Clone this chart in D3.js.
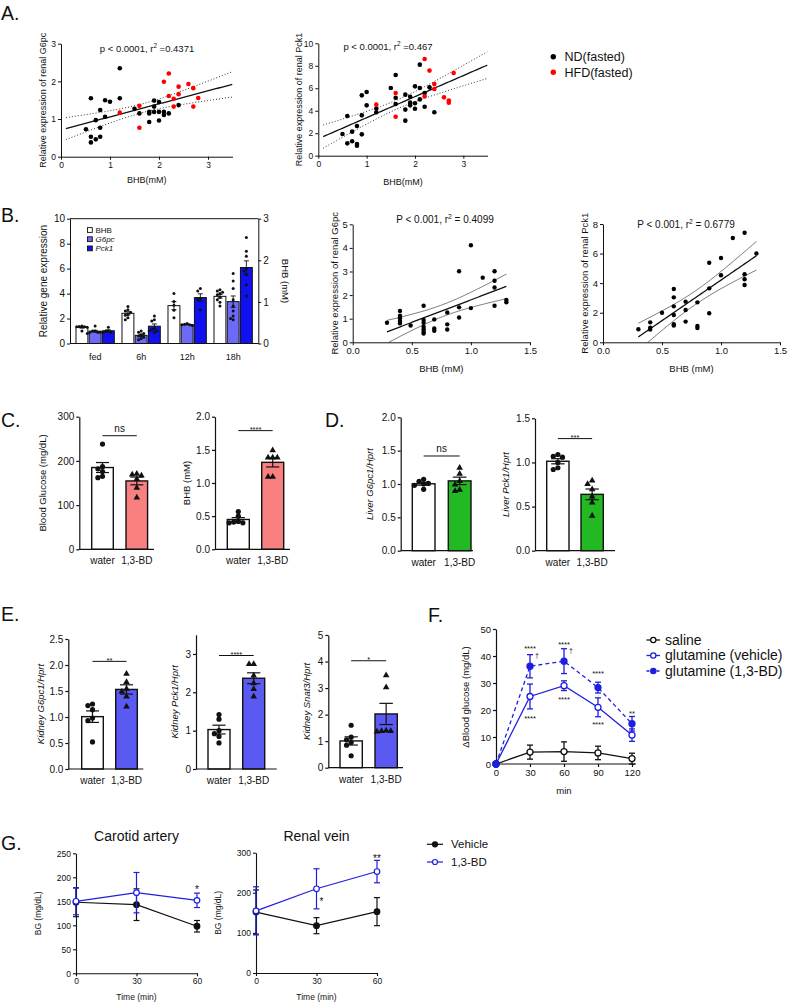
<!DOCTYPE html>
<html>
<head>
<meta charset="utf-8">
<script src="https://cdn.jsdelivr.net/npm/d3@7"></script>
<style>
body { margin: 0; background: #fff; }
svg { font-family: "Liberation Sans", Arial, sans-serif; }
</style>
</head>
<body>
<svg id="fig" width="789" height="1006"></svg>
<script>
// ---------------- data ----------------
// A: renal expression vs BHB, fasted ND / HFD mice
var aG6pcND = [[0.51,0.73],[0.61,1.55],[0.61,0.53],[0.61,0.38],[0.71,0.97],[0.71,0.46],[0.80,1.24],[0.80,0.77],[0.80,0.53],[0.90,1.06],[0.90,1.50],[1.0,1.46],[1.2,2.35],[1.2,1.55],[1.5,1.27],[1.6,1.15],[1.8,1.19],[1.8,0.92],[1.8,1.15],[1.9,1.49],[1.9,1.33],[1.9,1.19],[2.0,1.45],[2.0,1.19],[2.0,0.96],[2.1,1.19],[2.1,1.11],[2.2,1.15],[2.4,1.37]];
var aG6pcHFD = [[1.2,1.17],[1.6,1.35],[1.6,0.77],[2.1,1.99],[2.2,2.21],[2.2,1.61],[2.3,1.54],[2.3,1.33],[2.4,1.86],[2.4,1.66],[2.6,1.93],[2.7,1.82],[2.7,1.33],[2.8,1.56]];
var aPck1ND = [[0.5,1.93],[0.6,3.53],[0.6,1.1],[0.7,1.28],[0.7,2.14],[0.8,2.64],[0.8,1.04],[0.8,0.89],[0.9,5.37],[0.9,3.59],[0.9,1.9],[1.0,5.67],[1.0,4.48],[1.2,4.2],[1.2,3.86],[1.5,6.02],[1.6,7.18],[1.6,5.16],[1.6,4.6],[1.8,5.43],[1.8,4.1],[1.8,3.12],[1.9,5.25],[1.9,4.72],[1.9,4.48],[2.0,6.17],[2.0,4.66],[2.0,4.18],[2.1,8.1],[2.1,6.02],[2.1,5.01],[2.2,5.58],[2.2,4.36],[2.3,6.08],[2.4,3.86]];
var aPck1HFD = [[1.2,4.54],[1.6,5.58],[1.6,3.47],[2.2,8.6],[2.2,5.28],[2.3,7.57],[2.4,6.38],[2.4,5.93],[2.6,5.19],[2.7,4.9],[2.7,4.72],[2.8,7.36]];

// B: fasting time course
var bGroups = ["fed", "6h", "12h", "18h"];
var bSeries = ["BHB", "G6pc", "Pck1"];
var bBHB = [[0.41,0.40,0.42,0.40,0.39,0.30],[0.89,0.81,0.78,0.75,0.70,0.68,0.62,0.57],[1.20,1.01,0.92,0.80,0.62],[1.29,1.26,1.23,1.20,1.17,1.11,1.05,0.99,0.90]];
var bG6pc = [[1.0,0.9,0.8,0.9,1.4,0.9,1.0],[1.0,0.8,0.6,0.5,0.4,0.7,0.3,0.9],[1.5,1.6,1.5,1.45,1.55],[5.6,5.0,4.4,3.5,3.0,2.6,2.2,2.0,1.9]];
var bPck1 = [[1.0,0.9,1.3,1.0,0.9],[2.2,1.9,1.8,1.2,1.0,0.9,1.0,1.1],[4.4,4.2,3.5,3.6,2.7],[8.5,7.4,7.0,6.0,5.8,5.5,4.7,3.8]];
var bG6pcVsBHB = [[0.29,0.83],[0.40,1.33],[0.40,1.13],[0.40,1.02],[0.40,0.90],[0.40,0.80],[0.49,0.71],[0.60,1.55],[0.60,0.95],[0.60,0.83],[0.60,0.66],[0.60,0.55],[0.60,0.45],[0.60,0.37],[0.69,0.97],[0.69,0.59],[0.69,0.49],[0.80,1.26],[0.80,0.76],[0.80,0.54],[0.90,3.01],[0.90,1.48],[0.90,1.05],[1.0,4.11],[1.0,1.45],[1.1,2.74],[1.2,3.01],[1.2,2.61],[1.2,2.32],[1.2,1.55],[1.3,1.79],[1.3,1.70]];
var bPck1VsBHB = [[0.3,0.88],[0.4,1.35],[0.4,0.99],[0.4,0.86],[0.5,2.0],[0.6,3.6],[0.6,3.04],[0.6,2.43],[0.6,1.85],[0.6,1.22],[0.6,1.13],[0.7,2.75],[0.7,2.18],[0.7,1.4],[0.8,2.7],[0.8,1.1],[0.8,0.97],[0.9,5.38],[0.9,3.65],[0.9,1.96],[1.0,5.7],[1.0,4.53],[1.1,7.05],[1.2,7.41],[1.2,4.6],[1.2,4.26],[1.2,3.87],[1.3,6.01]];

// C, D, E: water vs 1,3-BD
var treatments = ["water", "1,3-BD"];
var cGlucose = [[238,187,182,176,165,162],[172,170,168,160,140,118]];
var cBHB = [[0.57,0.50,0.42,0.41,0.40,0.40],[1.50,1.39,1.39,1.39,1.10,1.10]];
var dLiverG6pc = [[1.07,1.04,1.01,1.0,0.98,0.92],[1.25,1.16,1.05,1.0,0.92,0.90]];
var dLiverPck1 = [[1.09,1.07,1.06,1.0,0.94,0.92],[0.80,0.76,0.70,0.62,0.55,0.40]];
var eKidG6pc = [[1.25,1.22,1.14,0.98,0.93,0.52],[1.84,1.68,1.55,1.50,1.40,1.21]];
var eKidPck1 = [[1.42,1.30,1.00,0.92,0.85,0.68],[2.75,2.75,2.45,2.25,2.10,1.90]];
var eKidSnat3 = [[1.60,1.15,1.05,0.95,0.85,0.45],[3.50,3.05,1.42,1.40,1.38,1.40]];

// F: glutamine tolerance
var fTimes = [0, 30, 60, 90, 120];
var fSaline = [0, 4.4, 4.6, 4.1, 2.0];
var fSalineSem = [0, 2.6, 3.6, 2.5, 2.0];
var fGlnVeh = [0, 25, 29, 21, 10.7];
var fGlnVehSem = [0, 4.6, 1.8, 3.5, 2.3];
var fGlnBD = [0, 36.2, 38.1, 28.3, 14.9];
var fGlnBDSem = [0, 4.3, 4.6, 2.0, 2.7];
var fMarks = [[30,43.4,"****"],[60,45.0,"****"],[90,34.3,"****"],[30,17.7,"****"],[60,24.6,"****"],[90,15.3,"****"],[120,19.6,"**"]];
var fDaggers = [[30,40.2],[60,42.3]];

// G: blood glucose, carotid artery and renal vein
var gTimes = [0, 30, 60];
var gCaVeh = [148, 143, 98], gCaVehSem = [30, 33, 12];
var gCaBD = [150, 168, 152], gCaBDSem = [28, 42, 15];
var gRvVeh = [152, 118, 153], gRvVehSem = [55, 20, 35];
var gRvBD = [155, 210, 253], gRvBDSem = [60, 50, 28];

// ---------------- drawing ----------------
var svg = d3.select("svg#fig");
var INK = "#111";
var BLUE = "#1e1ee0";

function label(x, y, s, size, o) {
  o = o || {};
  var t = svg.append("text").attr("x", x).attr("y", y).attr("font-size", size)
    .attr("text-anchor", o.anchor || "start").attr("fill", o.fill || INK).text(s);
  if (o.rotate) t.attr("transform", "rotate(" + o.rotate + "," + x + "," + y + ")");
  if (o.italic) t.attr("font-style", "italic");
  return t;
}

function styleAxis(g, fs, sw) {
  g.attr("font-size", fs).attr("font-family", null);
  g.selectAll("path.domain").attr("stroke", INK).attr("stroke-width", sw);
  g.selectAll(".tick line").attr("stroke", INK).attr("stroke-width", sw);
  g.selectAll(".tick text").attr("fill", INK);
}

function leftAxis(x, scale, ticks, fmt, fs, sw) {
  var g = svg.append("g").attr("transform", "translate(" + x + ",0)")
    .call(d3.axisLeft(scale).tickValues(ticks).tickFormat(d3.format(fmt)).tickSize(3).tickSizeOuter(0).tickPadding(2));
  styleAxis(g, fs, sw);
  return g;
}

function bottomAxis(y, scale, ticks, fmt, fs, sw) {
  var g = svg.append("g").attr("transform", "translate(0," + y + ")")
    .call(d3.axisBottom(scale).tickValues(ticks).tickFormat(d3.format(fmt)).tickSize(3).tickSizeOuter(0).tickPadding(2));
  styleAxis(g, fs, sw);
  return g;
}

// least squares line with 95% confidence band
function fit(pts) {
  var n = pts.length;
  var mx = d3.mean(pts, function(d) { return d[0]; });
  var my = d3.mean(pts, function(d) { return d[1]; });
  var sxx = d3.sum(pts, function(d) { return (d[0] - mx) * (d[0] - mx); });
  var sxy = d3.sum(pts, function(d) { return (d[0] - mx) * (d[1] - my); });
  var b = sxy / sxx, a = my - b * mx;
  var s = Math.sqrt(d3.sum(pts, function(d) { var r = d[1] - a - b * d[0]; return r * r; }) / (n - 2));
  return {
    y: function(x) { return a + b * x; },
    ci: function(x) { return 2.02 * s * Math.sqrt(1 / n + (x - mx) * (x - mx) / sxx); }
  };
}

var clipN = 0;
function scatterPanel(o) {
  var x = d3.scaleLinear().domain(o.xd).range([o.x0, o.x1]);
  var y = d3.scaleLinear().domain(o.yd).range([o.y0, o.y1]);
  leftAxis(o.x0, y, o.yt, o.yf, o.fs, 1);
  bottomAxis(o.y0, x, o.xt, o.xf, o.fs, 1);

  var id = "clip" + (clipN++);
  svg.append("clipPath").attr("id", id).append("rect")
    .attr("x", o.x0).attr("y", o.y1).attr("width", o.x1 - o.x0).attr("height", o.y0 - o.y1);
  var g = svg.append("g").attr("clip-path", "url(#" + id + ")");

  var all = [];
  o.sets.forEach(function(s) { all = all.concat(s.pts); });
  var f = fit(all);
  var xs = d3.range(0, 61).map(function(i) { return o.fitX[0] + (o.fitX[1] - o.fitX[0]) * i / 60; });
  var ln = function(fn) {
    return d3.line().x(function(v) { return x(v); }).y(function(v) { return y(fn(v)); })(xs);
  };
  g.append("path").attr("d", ln(function(v) { return f.y(v) + f.ci(v); }))
    .attr("fill", "none").attr("stroke", o.bandColor).attr("stroke-width", o.bandWidth).attr("stroke-dasharray", o.bandDash);
  g.append("path").attr("d", ln(function(v) { return f.y(v) - f.ci(v); }))
    .attr("fill", "none").attr("stroke", o.bandColor).attr("stroke-width", o.bandWidth).attr("stroke-dasharray", o.bandDash);
  g.append("path").attr("d", ln(f.y)).attr("fill", "none").attr("stroke", INK).attr("stroke-width", 1.3);

  o.sets.forEach(function(s) {
    svg.append("g").selectAll("circle").data(s.pts).enter().append("circle")
      .attr("cx", function(d) { return x(d[0]); }).attr("cy", function(d) { return y(d[1]); })
      .attr("r", o.r).attr("fill", s.color);
  });

  label(o.ylabX, (o.y0 + o.y1) / 2, o.ylab, o.lfs, { anchor: "middle", rotate: -90 });
  label((o.x0 + o.x1) / 2, o.xlabY, o.xlab, o.lfs, { anchor: "middle" });
  var st = label(o.statX, o.statY, o.stat[0], o.sfs, { anchor: "middle" });
  st.append("tspan").attr("font-size", o.sfs * 0.68).attr("dy", -3.8).text("2");
  st.append("tspan").attr("dy", 3.8).text(o.stat[1]);
}

// simple horizontal spread of dots that would overlap
function swarm(vals, y, cx, r, step) {
  var placed = [];
  var order = vals.map(function(v, i) { return i; }).sort(function(a, b) { return vals[b] - vals[a]; });
  var out = [];
  order.forEach(function(i) {
    var py = y(vals[i]);
    var cands = [0, -1, 1, -2, 2, -3, 3];
    for (var k = 0; k < cands.length; k++) {
      var px = cx + cands[k] * step;
      var hit = placed.some(function(p) { return Math.abs(p[0] - px) < step * 0.9 && Math.abs(p[1] - py) < r * 1.7; });
      if (!hit) break;
    }
    placed.push([px, py]);
    out.push([px, py]);
  });
  return out;
}

function sem(v) { return d3.deviation(v) / Math.sqrt(v.length); }

function errBar(cx, yTop, yBot, half, color, sw) {
  svg.append("line").attr("x1", cx).attr("x2", cx).attr("y1", yTop).attr("y2", yBot).attr("stroke", color).attr("stroke-width", sw);
  svg.append("line").attr("x1", cx - half).attr("x2", cx + half).attr("y1", yTop).attr("y2", yTop).attr("stroke", color).attr("stroke-width", sw);
  svg.append("line").attr("x1", cx - half).attr("x2", cx + half).attr("y1", yBot).attr("y2", yBot).attr("stroke", color).attr("stroke-width", sw);
}

// ---------- panel letters ----------
label(1, 20, "A.", 19.5);
label(1, 222, "B.", 19.5);
label(1, 426.5, "C.", 19.5);
label(325, 426.5, "D.", 19.5);
label(1, 620.5, "E.", 19.5);
label(428, 622, "F.", 19.5);
label(1, 850, "G.", 19.5);

// ---------- A ----------
scatterPanel({
  x0: 61, x1: 232.5, y0: 156.7, y1: 43.7, xd: [0, 3.5], yd: [0, 3],
  xt: [0, 1, 2, 3], xf: "d", yt: [0, 1, 2, 3], yf: "d", fs: 8.5, lfs: 9, sfs: 9.5,
  sets: [{ pts: aG6pcND, color: "#000" }, { pts: aG6pcHFD, color: "#f00" }],
  r: 2.3, fitX: [0.1, 3.5], bandColor: "#333", bandWidth: 1, bandDash: "1,2",
  ylab: "Relative expression of renal G6pc", ylabX: 46.5, xlab: "BHB(mM)", xlabY: 183,
  stat: ["p < 0.0001, r", " =0.4371"], statX: 147, statY: 51.5
});
scatterPanel({
  x0: 318.3, x1: 487.5, y0: 155.7, y1: 43.3, xd: [0, 3.5], yd: [0, 10],
  xt: [0, 1, 2, 3], xf: "d", yt: [0, 2, 4, 6, 8, 10], yf: "d", fs: 8.5, lfs: 9, sfs: 9.5,
  sets: [{ pts: aPck1ND, color: "#000" }, { pts: aPck1HFD, color: "#f00" }],
  r: 2.3, fitX: [0.1, 3.5], bandColor: "#333", bandWidth: 1, bandDash: "1,2",
  ylab: "Relative expression of renal Pck1", ylabX: 301.5, xlab: "BHB(mM)", xlabY: 184.5,
  stat: ["p < 0.0001, r", " =0.467"], statX: 388, statY: 49.5
});
[["ND(fasted)", "#000", 56.7], ["HFD(fasted)", "#f00", 72.3]].forEach(function(l) {
  svg.append("circle").attr("cx", 553.3).attr("cy", l[2]).attr("r", 2.7).attr("fill", l[1]);
  label(564.5, l[2] + 4.4, l[0], 12.5);
});

// ---------- B bars ----------
(function() {
  var x0 = d3.scaleBand().domain(bGroups).range([70, 258.3]).paddingInner(0.167).paddingOuter(0.13);
  var x1 = d3.scaleBand().domain(bSeries).range([0, x0.bandwidth()]).paddingInner(0.1);
  var yL = d3.scaleLinear().domain([0, 10]).range([343.5, 218.7]);
  var yR = d3.scaleLinear().domain([0, 3]).range([343.5, 218.7]);
  var fills = { BHB: "#fff", G6pc: "#6b6bf7", Pck1: "#1010f0" };
  var sets = { BHB: bBHB, G6pc: bG6pc, Pck1: bPck1 };

  bGroups.forEach(function(gname, gi) {
    bSeries.forEach(function(s) {
      var vals = sets[s][gi];
      var y = s === "BHB" ? yR : yL;
      var m = d3.mean(vals), e = sem(vals);
      var bx = x0(gname) + x1(s), bw = x1.bandwidth();
      svg.append("rect").attr("x", bx).attr("y", y(m)).attr("width", bw).attr("height", y(0) - y(m))
        .attr("fill", fills[s]).attr("stroke", INK).attr("stroke-width", 1);
      errBar(bx + bw / 2, y(m + e), y(m - e), 2.5, INK, 0.9);
      swarm(vals, y, bx + bw / 2, 1.5, 2.6).forEach(function(p) {
        svg.append("circle").attr("cx", p[0]).attr("cy", p[1]).attr("r", 1.5).attr("fill", INK);
      });
    });
  });

  leftAxis(70, yL, [0, 2, 4, 6, 8, 10], "d", 10, 1);
  var gr = svg.append("g").attr("transform", "translate(258.3,0)")
    .call(d3.axisRight(yR).tickValues([0, 1, 2, 3]).tickFormat(d3.format("d")).tickSize(3).tickSizeOuter(0).tickPadding(2));
  styleAxis(gr, 10, 1);
  svg.append("line").attr("x1", 70).attr("x2", 258.3).attr("y1", 343.5).attr("y2", 343.5).attr("stroke", INK);
  svg.append("line").attr("x1", 70).attr("x2", 258.3).attr("y1", 218.7).attr("y2", 218.7).attr("stroke", INK);
  bGroups.forEach(function(gname) {
    label(x0(gname) + x0.bandwidth() / 2, 360, gname, 9, { anchor: "middle" });
  });
  label(46.5, 281, "Relative gene expression", 10, { anchor: "middle", rotate: -90 });
  label(281.5, 281, "BHB (mM)", 9.5, { anchor: "middle", rotate: 90 });

  bSeries.forEach(function(s, i) {
    var cy = 230 + i * 9.2;
    svg.append("rect").attr("x", 87.5).attr("y", cy - 2.4).attr("width", 4.8).attr("height", 4.8)
      .attr("fill", fills[s]).attr("stroke", INK).attr("stroke-width", 0.9);
    label(95.5, cy + 3, s, 8, { italic: s !== "BHB" });
  });
})();

// ---------- B scatters ----------
scatterPanel({
  x0: 352.7, x1: 530, y0: 342.3, y1: 224.3, xd: [0, 1.5], yd: [0, 5],
  xt: [0, 0.5, 1, 1.5], xf: ".1f", yt: [0, 1, 2, 3, 4, 5], yf: "d", fs: 9.5, lfs: 9.5, sfs: 10,
  sets: [{ pts: bG6pcVsBHB, color: "#000" }],
  r: 2.2, fitX: [0.29, 1.3], bandColor: "#222", bandWidth: 0.6, bandDash: null,
  ylab: "Relative expression of renal G6pc", ylabX: 338, xlab: "BHB (mM)", xlabY: 372,
  stat: ["P < 0.001, r", " = 0.4099"], statX: 445, statY: 222.5
});
scatterPanel({
  x0: 603, x1: 780, y0: 342.3, y1: 224, xd: [0, 1.5], yd: [0, 8],
  xt: [0, 0.5, 1, 1.5], xf: ".1f", yt: [0, 2, 4, 6, 8], yf: "d", fs: 9.5, lfs: 9.5, sfs: 10,
  sets: [{ pts: bPck1VsBHB, color: "#000" }],
  r: 2.2, fitX: [0.3, 1.3], bandColor: "#222", bandWidth: 0.6, bandDash: null,
  ylab: "Relative expression of renal Pck1", ylabX: 588, xlab: "BHB (mM)", xlabY: 372,
  stat: ["P < 0.001, r", " = 0.6779"], statX: 686, statY: 227.5
});

// ---------- C, D, E: two-bar dot plots ----------
function dotBarPanel(o) {
  var pad = (o.step - o.bw) / 2;
  var x = d3.scaleBand().domain(treatments).range([o.bar - pad, o.bar - pad + 2 * o.step])
    .paddingInner(1 - o.bw / o.step).paddingOuter((1 - o.bw / o.step) / 2);
  var y = d3.scaleLinear().domain(o.yd).range([o.y0, o.y1]);
  var fills = [ "#fff", o.fill ];

  treatments.forEach(function(t, i) {
    var vals = o.data[i];
    var m = d3.mean(vals), e = sem(vals);
    var bx = x(t), bw = x.bandwidth(), cx = bx + bw / 2;
    svg.append("rect").attr("x", bx).attr("y", y(m)).attr("width", bw).attr("height", y(0) - y(m))
      .attr("fill", fills[i]).attr("stroke", INK).attr("stroke-width", 1.4);
    var pts = swarm(vals, y, cx, 2.6, 4.6);
    pts.forEach(function(p) {
      if (i === 0) {
        svg.append("circle").attr("cx", p[0]).attr("cy", p[1]).attr("r", 2.6).attr("fill", INK);
      } else {
        svg.append("path").attr("d", d3.symbol(d3.symbolTriangle).size(19)())
          .attr("transform", "translate(" + p[0] + "," + (p[1] + 0.5) + ")").attr("fill", INK);
      }
    });
    errBar(cx, y(m + e), y(m - e), bw * 0.3, INK, 1.2);
    label(cx, o.y0 + 15, t, 10, { anchor: "middle" });
  });

  leftAxis(o.x0, y, o.yt, o.yf, 10, 1.2);
  svg.append("line").attr("x1", o.x0).attr("x2", o.xEnd).attr("y1", o.y0).attr("y2", o.y0)
    .attr("stroke", INK).attr("stroke-width", 1.2);
  label(o.x0 - o.ylabOff, (o.y0 + o.y1) / 2, o.ylab, 9.5, { anchor: "middle", rotate: -90, italic: o.italic });

  var sy = y(o.sig[1]);
  var c0 = x(treatments[0]) + x.bandwidth() / 2, c1 = x(treatments[1]) + x.bandwidth() / 2;
  svg.append("line").attr("x1", c0).attr("x2", c1).attr("y1", sy).attr("y2", sy).attr("stroke", INK).attr("stroke-width", 1);
  if (o.sig[0] === "ns") label((c0 + c1) / 2, sy - 3.5, "ns", 10, { anchor: "middle" });
  else label((c0 + c1) / 2, sy + 1.5, o.sig[0], 7.5, { anchor: "middle" });
}

dotBarPanel({ x0: 79.3, xEnd: 154, bar: 91.7, bw: 21.6, step: 34.3, y0: 549.3, y1: 416.7, yd: [0, 300],
  yt: [0, 100, 200, 300], yf: "d", data: cGlucose, fill: "#f88080", ylab: "Blood Glucose (mg/dL)", ylabOff: 33.5,
  sig: ["ns", 257] });
dotBarPanel({ x0: 215, xEnd: 290, bar: 227.3, bw: 22, step: 34.4, y0: 549.3, y1: 416.7, yd: [0, 2],
  yt: [0, 0.5, 1, 1.5, 2], yf: ".1f", data: cBHB, fill: "#f88080", ylab: "BHB (mM)", ylabOff: 25.5,
  sig: ["****", 1.79] });
dotBarPanel({ x0: 400.7, xEnd: 473, bar: 412.3, bw: 22.7, step: 36, y0: 550.7, y1: 417.3, yd: [0, 2],
  yt: [0, 0.5, 1, 1.5, 2], yf: ".1f", data: dLiverG6pc, fill: "#22b922", ylab: "Liver G6pc1/Hprt", ylabOff: 27.5, italic: true,
  sig: ["ns", 1.42] });
dotBarPanel({ x0: 535, xEnd: 615, bar: 546.7, bw: 22.3, step: 34.3, y0: 550.7, y1: 418.3, yd: [0, 1.5],
  yt: [0, 0.5, 1, 1.5], yf: ".1f", data: dLiverPck1, fill: "#22b922", ylab: "Liver Pck1/Hprt", ylabOff: 26, italic: true,
  sig: ["***", 1.27] });
dotBarPanel({ x0: 68.3, xEnd: 143.3, bar: 81.7, bw: 21.6, step: 34, y0: 769, y1: 639, yd: [0, 2.5],
  yt: [0, 0.5, 1, 1.5, 2, 2.5], yf: ".1f", data: eKidG6pc, fill: "#5a5af2", ylab: "Kidney G6pc1/Hprt", ylabOff: 24, italic: true,
  sig: ["**", 2.07] });
dotBarPanel({ x0: 196, xEnd: 276.7, bar: 208, bw: 22, step: 34.7, y0: 769, y1: 634.8, yd: [0, 3.5],
  yt: [0, 1, 2, 3], yf: "d", data: eKidPck1, fill: "#5a5af2", ylab: "Kidney Pck1/Hprt", ylabOff: 18, italic: true,
  sig: ["****", 2.96] });
dotBarPanel({ x0: 328.3, xEnd: 403, bar: 340, bw: 22.3, step: 35, y0: 767.7, y1: 635, yd: [0, 5],
  yt: [0, 1, 2, 3, 4, 5], yf: "d", data: eKidSnat3, fill: "#5a5af2", ylab: "Kidney Snat3/Hprt", ylabOff: 18, italic: true,
  sig: ["*", 4.03] });

// ---------- F ----------
(function() {
  var x = d3.scaleLinear().domain([0, 120]).range([496, 632]);
  var y = d3.scaleLinear().domain([0, 50]).range([764, 629]);
  leftAxis(496, y, [0, 10, 20, 30, 40, 50], "d", 9.5, 1.2);
  var gx = bottomAxis(764, x, fTimes, "d", 9.5, 1.2);
  gx.select("path.domain").attr("d", "M496,0H636");
  label(564, 794, "min", 9.5, { anchor: "middle" });
  label(469, 697, "\u0394Blood glucose (mg/dL)", 9.5, { anchor: "middle", rotate: -90 });

  var series = [
    { m: fSaline, e: fSalineSem, color: INK, dash: null, filled: false },
    { m: fGlnVeh, e: fGlnVehSem, color: BLUE, dash: null, filled: false },
    { m: fGlnBD, e: fGlnBDSem, color: BLUE, dash: "4,3", filled: true }
  ];
  series.forEach(function(s) {
    svg.append("path").attr("d", d3.line().x(function(d, i) { return x(fTimes[i]); }).y(function(d) { return y(d); })(s.m))
      .attr("fill", "none").attr("stroke", s.color).attr("stroke-width", 1.3).attr("stroke-dasharray", s.dash);
    s.m.forEach(function(v, i) {
      if (s.e[i] > 0) errBar(x(fTimes[i]), y(v + s.e[i]), y(v - s.e[i]), 3, s.color, 1.3);
    });
  });
  series.forEach(function(s) {
    s.m.forEach(function(v, i) {
      svg.append("circle").attr("cx", x(fTimes[i])).attr("cy", y(v)).attr("r", 3)
        .attr("fill", s.filled || i === 0 ? s.color : "#fff").attr("stroke", s.color).attr("stroke-width", 1.3);
    });
  });
  fMarks.forEach(function(a) {
    label(x(a[0]), y(a[1]) + 4.5, a[2], 7.5, { anchor: "middle" });
  });
  fDaggers.forEach(function(a) {
    label(x(a[0]) + 7, y(a[1]) + 3, "\u2020", 7, { anchor: "middle" });
  });

  var leg = [["saline", INK, false, null], ["glutamine (vehicle)", BLUE, false, null], ["glutamine (1,3-BD)", BLUE, true, "3,2"]];
  leg.forEach(function(l, i) {
    var cy = 640 + i * 15.5;
    svg.append("line").attr("x1", 646.5).attr("x2", 660).attr("y1", cy).attr("y2", cy)
      .attr("stroke", l[1]).attr("stroke-width", 1.3).attr("stroke-dasharray", l[3]);
    svg.append("circle").attr("cx", 653.3).attr("cy", cy).attr("r", 2.6)
      .attr("fill", l[2] ? l[1] : "#fff").attr("stroke", l[1]).attr("stroke-width", 1.3);
    label(665, cy + 4.8, l[0], 14);
  });
})();

// ---------- G ----------
function timePanel(o) {
  var x = d3.scaleLinear().domain([0, 60]).range([o.x0, o.x1]);
  var y = d3.scaleLinear().domain(o.yd).range([o.y0, o.y1]);
  leftAxis(o.x0, y, o.yt, "d", 8.5, 1.1);
  bottomAxis(o.y0, x, gTimes, "d", 8.5, 1.1);
  label((o.x0 + o.x1) / 2, 840.5, o.title, 14, { anchor: "middle" });
  label((o.x0 + o.x1) / 2, 1000, "Time (min)", 8.5, { anchor: "middle" });
  label(o.x0 - 35, (o.y0 + o.y1) / 2, "BG (mg/dL)", 8.5, { anchor: "middle", rotate: -90 });
  [{ m: o.veh, e: o.vehE, color: INK, filled: true }, { m: o.bd, e: o.bdE, color: BLUE, filled: false }].forEach(function(s) {
    svg.append("path").attr("d", d3.line().x(function(d, i) { return x(gTimes[i]); }).y(function(d) { return y(d); })(s.m))
      .attr("fill", "none").attr("stroke", s.color).attr("stroke-width", 1.2);
    s.m.forEach(function(v, i) {
      errBar(x(gTimes[i]), y(v + s.e[i]), y(v - s.e[i]), 3, s.color, 1.2);
      svg.append("circle").attr("cx", x(gTimes[i])).attr("cy", y(v)).attr("r", 2.8)
        .attr("fill", s.filled ? s.color : "#fff").attr("stroke", s.color).attr("stroke-width", 1.2);
    });
  });
  o.stars.forEach(function(a) {
    label(x(a[0]) + (a[2] || 0), y(a[1]) + 6, a[3], 10, { anchor: "middle" });
  });
}
timePanel({ x0: 76, x1: 197, y0: 973.3, y1: 853.3, yd: [0, 250], yt: [0, 50, 100, 150, 200, 250],
  title: "Carotid artery", veh: gCaVeh, vehE: gCaVehSem, bd: gCaBD, bdE: gCaBDSem, stars: [[60, 180, 0, "*"]] });
timePanel({ x0: 256, x1: 377, y0: 973, y1: 852.7, yd: [0, 300], yt: [0, 100, 200, 300],
  title: "Renal vein", veh: gRvVeh, vehE: gRvVehSem, bd: gRvBD, bdE: gRvBDSem, stars: [[30, 185, 5, "*"], [60, 292, 0, "**"]] });
[["Vehicle", INK, true], ["1,3-BD", BLUE, false]].forEach(function(l, i) {
  var cy = 844.3 + i * 17.7;
  svg.append("line").attr("x1", 427).attr("x2", 443).attr("y1", cy).attr("y2", cy).attr("stroke", l[1]).attr("stroke-width", 1.2);
  svg.append("circle").attr("cx", 435).attr("cy", cy).attr("r", 2.5)
    .attr("fill", l[2] ? l[1] : "#fff").attr("stroke", l[1]).attr("stroke-width", 1.2);
  label(451, cy + 4, l[0], 11.5);
});
</script>
</body>
</html>
